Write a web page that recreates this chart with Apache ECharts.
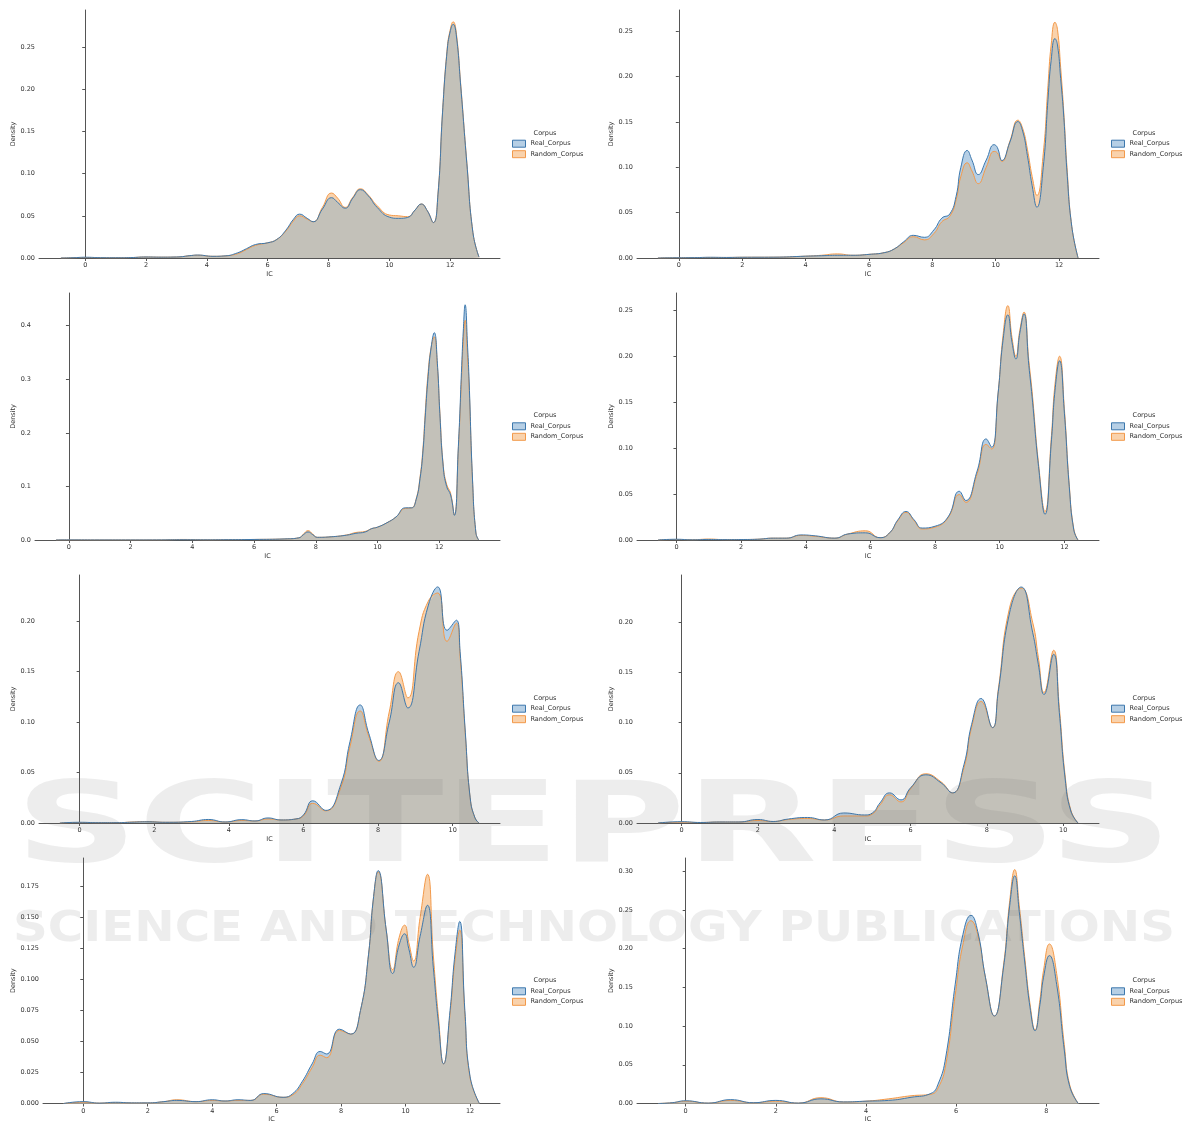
<!DOCTYPE html>
<html>
<head>
<meta charset="utf-8">
<script src="https://cdn.jsdelivr.net/npm/echarts@6/dist/echarts.min.js"></script>
<style>
  html, body { margin: 0; padding: 0; background: #fff; }
  #main { width: 1188px; height: 1124px; }
</style>
</head>
<body>
<div id="main"></div>
<script>
// KDE curves: x grid + density for each corpus, one set per panel
var p1X = [-0.8,-0.4,0,0.5,1,1.5,2,2.5,3,3.5,3.7,4.2,4.6,5,5.3,5.6,6,6.3,6.6,6.85,7.05,7.3,7.5,7.8,8.1,8.3,8.55,8.8,9.05,9.3,9.6,10,10.3,10.6,10.85,11.05,11.25,11.45,11.6,11.75,11.9,12.0,12.1,12.2,12.35,12.55,12.75,12.95];
var p1Real = [0,0.0003,0.0009,0.0004,0.0003,0.0005,0.0012,0.001,0.0012,0.003,0.0035,0.002,0.0025,0.006,0.011,0.016,0.018,0.022,0.033,0.046,0.052,0.047,0.043,0.058,0.0715,0.066,0.059,0.071,0.081,0.074,0.060,0.0485,0.047,0.048,0.057,0.064,0.056,0.042,0.075,0.172,0.245,0.268,0.277,0.265,0.203,0.112,0.03,0.001];
var p1Random = [0,0.0003,0.0006,0.0003,0.0003,0.0005,0.0012,0.001,0.0012,0.003,0.0033,0.002,0.0025,0.005,0.010,0.015,0.018,0.022,0.032,0.044,0.050,0.046,0.043,0.060,0.077,0.071,0.060,0.072,0.082,0.075,0.062,0.051,0.050,0.049,0.057,0.064,0.056,0.042,0.076,0.173,0.247,0.270,0.280,0.268,0.205,0.113,0.03,0.001];

var p2X = [-0.66,-0.2,0.5,1,1.5,2,3,4,4.5,5,5.5,6,6.5,6.8,7.1,7.4,7.75,8.05,8.3,8.55,8.75,8.9,9.1,9.25,9.45,9.7,9.95,10.05,10.2,10.45,10.7,10.85,11.0,11.15,11.3,11.5,11.65,11.75,11.87,11.95,12.05,12.15,12.25,12.4,12.6];
var p2Real = [0,0.0002,0.0004,0.0008,0.0006,0.0008,0.0009,0.002,0.0025,0.003,0.003,0.004,0.006,0.010,0.018,0.025,0.0228,0.031,0.044,0.0485,0.068,0.10,0.1186,0.108,0.092,0.108,0.125,0.122,0.1075,0.128,0.1505,0.14,0.113,0.08,0.056,0.10,0.175,0.218,0.242,0.235,0.198,0.155,0.095,0.035,0];
var p2Random = [0,0.0002,0.0004,0.0006,0.0006,0.0008,0.0009,0.002,0.003,0.0045,0.003,0.004,0.006,0.010,0.017,0.0235,0.020,0.027,0.040,0.046,0.064,0.09,0.105,0.096,0.082,0.100,0.1175,0.116,0.1065,0.129,0.152,0.143,0.12,0.09,0.069,0.115,0.19,0.235,0.260,0.252,0.21,0.16,0.10,0.035,0];

var p3X = [-0.42,0,1,2,3,3.7,4.5,5,6,7,7.45,7.6,7.75,7.9,8.05,8.5,9,9.3,9.6,9.8,10,10.3,10.6,10.9,11.1,11.25,11.38,11.48,11.54,11.64,11.74,11.84,11.94,12.02,12.13,12.24,12.37,12.49,12.62,12.73,12.78,12.84,12.92,12.97,13.08,13.19,13.28];
var p3Real = [0,0.0002,0.0001,0.0001,0.0002,0.0005,0.0003,0.0005,0.001,0.002,0.004,0.010,0.015,0.010,0.005,0.006,0.009,0.0125,0.015,0.021,0.024,0.032,0.043,0.060,0.060,0.075,0.115,0.17,0.224,0.305,0.36,0.387,0.33,0.236,0.137,0.10,0.084,0.046,0.174,0.326,0.39,0.439,0.36,0.295,0.112,0.013,0];
var p3Random = [0,0.0002,0.0001,0.0001,0.0002,0.001,0.0003,0.0005,0.001,0.002,0.004,0.011,0.0174,0.011,0.005,0.006,0.0095,0.014,0.016,0.021,0.024,0.032,0.043,0.059,0.060,0.076,0.118,0.176,0.232,0.312,0.36,0.379,0.325,0.24,0.14,0.104,0.087,0.047,0.17,0.31,0.37,0.41,0.34,0.285,0.11,0.013,0];

var p4X = [-0.57,0,0.5,1,1.5,2,2.5,3,3.4,3.85,4.3,4.9,5.3,5.85,6.3,6.6,6.85,7.1,7.35,7.6,8,8.4,8.75,8.95,9.3,9.58,9.75,9.95,10.1,10.25,10.38,10.5,10.62,10.75,10.9,11.0,11.2,11.4,11.6,11.71,11.85,12.0,12.15,12.29,12.42];
var p4Real = [0,0.0008,0.0002,0.0006,0.0004,0.0005,0.0008,0.002,0.002,0.0055,0.0045,0.002,0.0065,0.0078,0.0025,0.008,0.022,0.031,0.022,0.013,0.015,0.025,0.053,0.043,0.075,0.11,0.101,0.16,0.217,0.245,0.215,0.197,0.225,0.246,0.19,0.156,0.08,0.028,0.109,0.163,0.195,0.138,0.058,0.011,0];
var p4Random = [0,0.0005,0.0003,0.001,0.0004,0.0005,0.0008,0.002,0.002,0.005,0.004,0.002,0.0065,0.010,0.0025,0.008,0.021,0.030,0.021,0.012,0.014,0.024,0.0495,0.041,0.072,0.104,0.099,0.16,0.222,0.255,0.22,0.20,0.228,0.248,0.195,0.162,0.083,0.031,0.114,0.17,0.20,0.142,0.06,0.012,0];

var p5X = [-0.53,0,0.5,1,1.4,1.8,2.3,3,3.45,3.9,4.35,4.7,5.05,5.4,5.8,6.0,6.25,6.6,7.0,7.25,7.52,7.75,8.02,8.3,8.55,8.8,9.1,9.35,9.6,9.85,10.1,10.2,10.34,10.47,10.6,10.71];
var p5Real = [0,0.0007,0.0003,0.0003,0.0008,0.0012,0.0007,0.0015,0.0035,0.001,0.0033,0.002,0.005,0.003,0.004,0.008,0.022,0.0125,0.038,0.081,0.117,0.089,0.062,0.10,0.139,0.114,0.17,0.216,0.234,0.191,0.201,0.17,0.09,0.025,0.005,0];
var p5Random = [0,0.0005,0.0003,0.0003,0.001,0.0015,0.0007,0.0012,0.0025,0.001,0.0025,0.002,0.004,0.003,0.004,0.007,0.0195,0.012,0.035,0.076,0.111,0.086,0.061,0.11,0.15,0.124,0.19,0.22,0.228,0.18,0.198,0.165,0.088,0.025,0.005,0];

var p6X = [-0.62,0,0.5,1,1.5,2.0,2.4,2.8,3.3,3.75,4.25,4.8,5.0,5.2,5.45,5.75,6.0,6.4,6.8,7.1,7.4,7.6,7.85,8.15,8.3,8.6,8.9,9.2,9.35,9.5,9.75,9.9,10.05,10.2,10.39];
var p6Real = [0,0.0013,0.0005,0.001,0.001,0.0035,0.0015,0.004,0.0055,0.003,0.010,0.008,0.010,0.02,0.030,0.023,0.035,0.048,0.04,0.030,0.058,0.098,0.124,0.095,0.131,0.21,0.235,0.19,0.158,0.128,0.168,0.11,0.045,0.012,0];
var p6Random = [0,0.0008,0.0005,0.001,0.001,0.0025,0.0015,0.0035,0.0045,0.003,0.007,0.007,0.009,0.018,0.028,0.021,0.034,0.049,0.041,0.030,0.055,0.095,0.121,0.095,0.133,0.215,0.234,0.20,0.165,0.13,0.172,0.115,0.048,0.013,0];

var p7X = [-0.61,0,0.5,1,1.5,2,2.5,2.9,3.5,4,4.4,4.8,5.2,5.6,6.2,6.5,6.8,7.1,7.35,7.55,7.95,8.3,8.6,8.85,9.0,9.15,9.4,9.6,9.8,9.97,10.1,10.25,10.45,10.68,10.86,11.02,11.18,11.38,11.53,11.68,11.84,12.0,12.29];
var p7Real = [0,0.0015,0.0003,0.001,0.0005,0.0005,0.0015,0.0025,0.0015,0.003,0.002,0.003,0.0025,0.008,0.005,0.008,0.018,0.032,0.042,0.040,0.060,0.056,0.075,0.12,0.165,0.188,0.14,0.105,0.128,0.137,0.125,0.11,0.135,0.160,0.11,0.065,0.032,0.075,0.12,0.147,0.075,0.022,0];
var p7Random = [0,0.001,0.0003,0.0008,0.0005,0.0005,0.0015,0.003,0.0015,0.0025,0.002,0.0025,0.0025,0.0075,0.005,0.007,0.016,0.029,0.039,0.037,0.059,0.056,0.075,0.12,0.165,0.187,0.14,0.108,0.134,0.144,0.13,0.115,0.15,0.185,0.12,0.07,0.032,0.072,0.115,0.140,0.072,0.021,0];

var p8X = [-0.61,-0.3,0,0.5,1.0,1.5,2.0,2.5,3.0,3.5,4,4.5,5,5.44,5.6,5.77,5.98,6.15,6.33,6.48,6.65,6.85,7.05,7.19,7.3,7.4,7.52,7.65,7.75,7.86,7.94,8.07,8.23,8.4,8.52,8.71];
var p8Real = [0,0.001,0.0035,0.0005,0.005,0.001,0.004,0.0005,0.006,0.002,0.003,0.004,0.008,0.013,0.025,0.06,0.154,0.218,0.243,0.222,0.163,0.113,0.175,0.256,0.294,0.248,0.184,0.12,0.094,0.128,0.163,0.191,0.154,0.069,0.022,0];
var p8Random = [0,0.001,0.003,0.0005,0.004,0.001,0.003,0.0005,0.0075,0.002,0.003,0.006,0.010,0.012,0.02,0.05,0.14,0.205,0.236,0.218,0.163,0.113,0.178,0.262,0.302,0.256,0.19,0.124,0.095,0.134,0.172,0.206,0.168,0.076,0.024,0];

// tick labels
var xTicks12 = [0,2,4,6,8,10,12];
var xTicks10 = [0,2,4,6,8,10];
var xTicks8 = [0,2,4,6,8];
var yTicks025 = [0,0.05,0.10,0.15,0.20,0.25];
var yTicks020 = [0,0.05,0.10,0.15,0.20];
var yTicks030 = [0,0.05,0.10,0.15,0.20,0.25,0.30];
var yTicks04 = [0,0.1,0.2,0.3,0.4];
var yTicks0175 = [0,0.025,0.05,0.075,0.1,0.125,0.15,0.175];

var corpusNames = ['Real_Corpus', 'Random_Corpus'];

var BLUE_LINE = '#3d78ad', ORANGE_LINE = '#f2994a';
var BLUE_FILL = '#b6cfe5', ORANGE_FILL = '#f9d2ac', GRAY_FILL = '#c3c1b9';
var TXT = '#333', AXIS = '#555';
var FONT = 'DejaVu Sans';

var panels = [
  {x: p1X, real: p1Real, rand: p1Random, xr: [-1.52, 13.64], ymax: 0.294, xt: xTicks12, yt: yTicks025, dec: 2,
   grid: {left: 39, top: 10, width: 461, height: 248}, yGap: 22.5, lg: [512, 143.7]},
  {x: p2X, real: p2Real, rand: p2Random, xr: [-1.32, 13.26], ymax: 0.2735, xt: xTicks12, yt: yTicks025, dec: 2,
   grid: {left: 637, top: 10, width: 462, height: 248}, yGap: 22.5, lg: [1111, 143.7]},
  {x: p3X, real: p3Real, rand: p3Random, xr: [-1.10, 13.97], ymax: 0.461, xt: xTicks12, yt: yTicks04, dec: 1,
   grid: {left: 35, top: 293, width: 465, height: 247}, yGap: 18.5, lg: [512, 426.3]},
  {x: p4X, real: p4Real, rand: p4Random, xr: [-1.22, 13.07], ymax: 0.2688, xt: xTicks12, yt: yTicks025, dec: 2,
   grid: {left: 637, top: 293, width: 462, height: 247}, yGap: 22, lg: [1111, 426.3]},
  {x: p5X, real: p5Real, rand: p5Random, xr: [-1.09, 11.27], ymax: 0.2458, xt: xTicks10, yt: yTicks020, dec: 2,
   grid: {left: 39, top: 575, width: 461, height: 248}, yGap: 22.5, lg: [512, 708.7]},
  {x: p6X, real: p6Real, rand: p6Random, xr: [-1.17, 10.94], ymax: 0.247, xt: xTicks10, yt: yTicks020, dec: 2,
   grid: {left: 637, top: 575, width: 462, height: 248}, yGap: 22.5, lg: [1111, 708.7]},
  {x: p7X, real: p7Real, rand: p7Random, xr: [-1.25, 12.93], ymax: 0.1982, xt: xTicks12, yt: yTicks0175, dec: 3,
   grid: {left: 43, top: 858, width: 457, height: 247}, yGap: 26, lg: [512, 991.3]},
  {x: p8X, real: p8Real, rand: p8Random, xr: [-1.08, 9.17], ymax: 0.317, xt: xTicks8, yt: yTicks030, dec: 2,
   grid: {left: 637, top: 858, width: 462, height: 247}, yGap: 22, lg: [1111, 991.3]}
];

function pairs(xs, ys) {
  return xs.map(function (x, i) { return [x, ys[i]]; });
}

var grids = [], xAxes = [], yAxes = [], series = [], legends = [], graphics = [];

panels.forEach(function (p, k) {
  grids.push(p.grid);
  xAxes.push({
    type: 'value', gridIndex: k, min: p.xr[0], max: p.xr[1],
    name: 'IC', nameLocation: 'middle', nameGap: 12.5,
    nameTextStyle: {fontFamily: FONT, fontSize: 6.5, color: TXT},
    axisLine: {show: true, lineStyle: {color: AXIS, width: 1}},
    axisTick: {show: true, length: 3, customValues: p.xt, lineStyle: {color: AXIS}},
    axisLabel: {customValues: p.xt, margin: 4, fontFamily: FONT, fontSize: 6.5, color: TXT},
    splitLine: {show: false}
  });
  yAxes.push({
    type: 'value', gridIndex: k, min: 0, max: p.ymax,
    name: 'Density', nameLocation: 'middle', nameRotate: 90, nameGap: p.yGap,
    nameTextStyle: {fontFamily: FONT, fontSize: 6.5, color: TXT},
    axisLine: {show: true, lineStyle: {color: AXIS, width: 1}},
    axisTick: {show: true, length: 3, customValues: p.yt, lineStyle: {color: AXIS}},
    axisLabel: {customValues: p.yt, margin: 4, fontFamily: FONT, fontSize: 6.5, color: TXT,
      formatter: (function (d) { return function (v) { return v.toFixed(d); }; })(p.dec)},
    splitLine: {show: false}
  });

  // shared part of the two densities, painted grey like the reference
  var overlap = p.real.map(function (v, i) { return Math.min(v, p.rand[i]); });
  var base = {type: 'line', xAxisIndex: k, yAxisIndex: k, smooth: 0.5,
    symbol: 'none', silent: true};
  series.push(Object.assign({}, base, {name: corpusNames[0], data: pairs(p.x, p.real), z: 2,
    lineStyle: {width: 0}, areaStyle: {color: BLUE_FILL, opacity: 1}}));
  series.push(Object.assign({}, base, {name: corpusNames[1], data: pairs(p.x, p.rand), z: 2,
    lineStyle: {width: 0}, areaStyle: {color: ORANGE_FILL, opacity: 1}}));
  series.push(Object.assign({}, base, {name: 'overlap', data: pairs(p.x, overlap), z: 3,
    lineStyle: {width: 0}, areaStyle: {color: GRAY_FILL, opacity: 1}}));
  series.push(Object.assign({}, base, {name: corpusNames[1], data: pairs(p.x, p.rand), z: 4,
    lineStyle: {width: 1, color: ORANGE_LINE}, itemStyle: {color: ORANGE_LINE}}));
  series.push(Object.assign({}, base, {name: corpusNames[0], data: pairs(p.x, p.real), z: 5,
    lineStyle: {width: 1, color: BLUE_LINE}, itemStyle: {color: BLUE_LINE}}));

  legends.push({
    orient: 'vertical', left: p.lg[0], top: p.lg[1] - 4.5, padding: 0, itemGap: 1.5,
    itemWidth: 13, itemHeight: 7, icon: 'rect', selectedMode: false,
    textStyle: {fontFamily: FONT, fontSize: 6.5, color: TXT, lineHeight: 9},
    data: [
      {name: corpusNames[0], itemStyle: {color: BLUE_FILL, borderColor: BLUE_LINE, borderWidth: 1}},
      {name: corpusNames[1], itemStyle: {color: ORANGE_FILL, borderColor: ORANGE_LINE, borderWidth: 1}}
    ]
  });
  graphics.push({
    type: 'text', x: p.lg[0] + 33, y: p.lg[1] - 10.5, z: 10,
    style: {text: 'Corpus', fontFamily: FONT, fontSize: 6.5, fill: TXT, textAlign: 'center', textVerticalAlign: 'middle'}
  });
});

// publisher watermark laid over the figure
function stretch(text, font, width) {
  var ctx = document.createElement('canvas').getContext('2d');
  ctx.font = font;
  return width / ctx.measureText(text).width;
}
var wmFont1 = 'bold 112px "DejaVu Sans"';
var wmFont2 = 'bold 42px "DejaVu Sans"';
var wmFill = 'rgba(110,110,110,0.12)';
graphics.push({
  type: 'text', x: 15, y: 832, z: 100, silent: true,
  scaleX: stretch('SCITEPRESS', wmFont1, 1157),
  style: {text: 'SCITEPRESS', font: wmFont1, fill: wmFill, textAlign: 'left', textVerticalAlign: 'middle'}
});
graphics.push({
  type: 'text', x: 13, y: 930, z: 100, silent: true,
  scaleX: stretch('SCIENCE AND TECHNOLOGY PUBLICATIONS', wmFont2, 1162),
  style: {text: 'SCIENCE AND TECHNOLOGY PUBLICATIONS', font: wmFont2, fill: wmFill, textAlign: 'left', textVerticalAlign: 'middle'}
});

var chart = echarts.init(document.getElementById('main'), null, {renderer: 'canvas'});
chart.setOption({
  animation: false,
  backgroundColor: '#fff',
  grid: grids,
  xAxis: xAxes,
  yAxis: yAxes,
  legend: legends,
  series: series,
  graphic: graphics
});
</script>
</body>
</html>
